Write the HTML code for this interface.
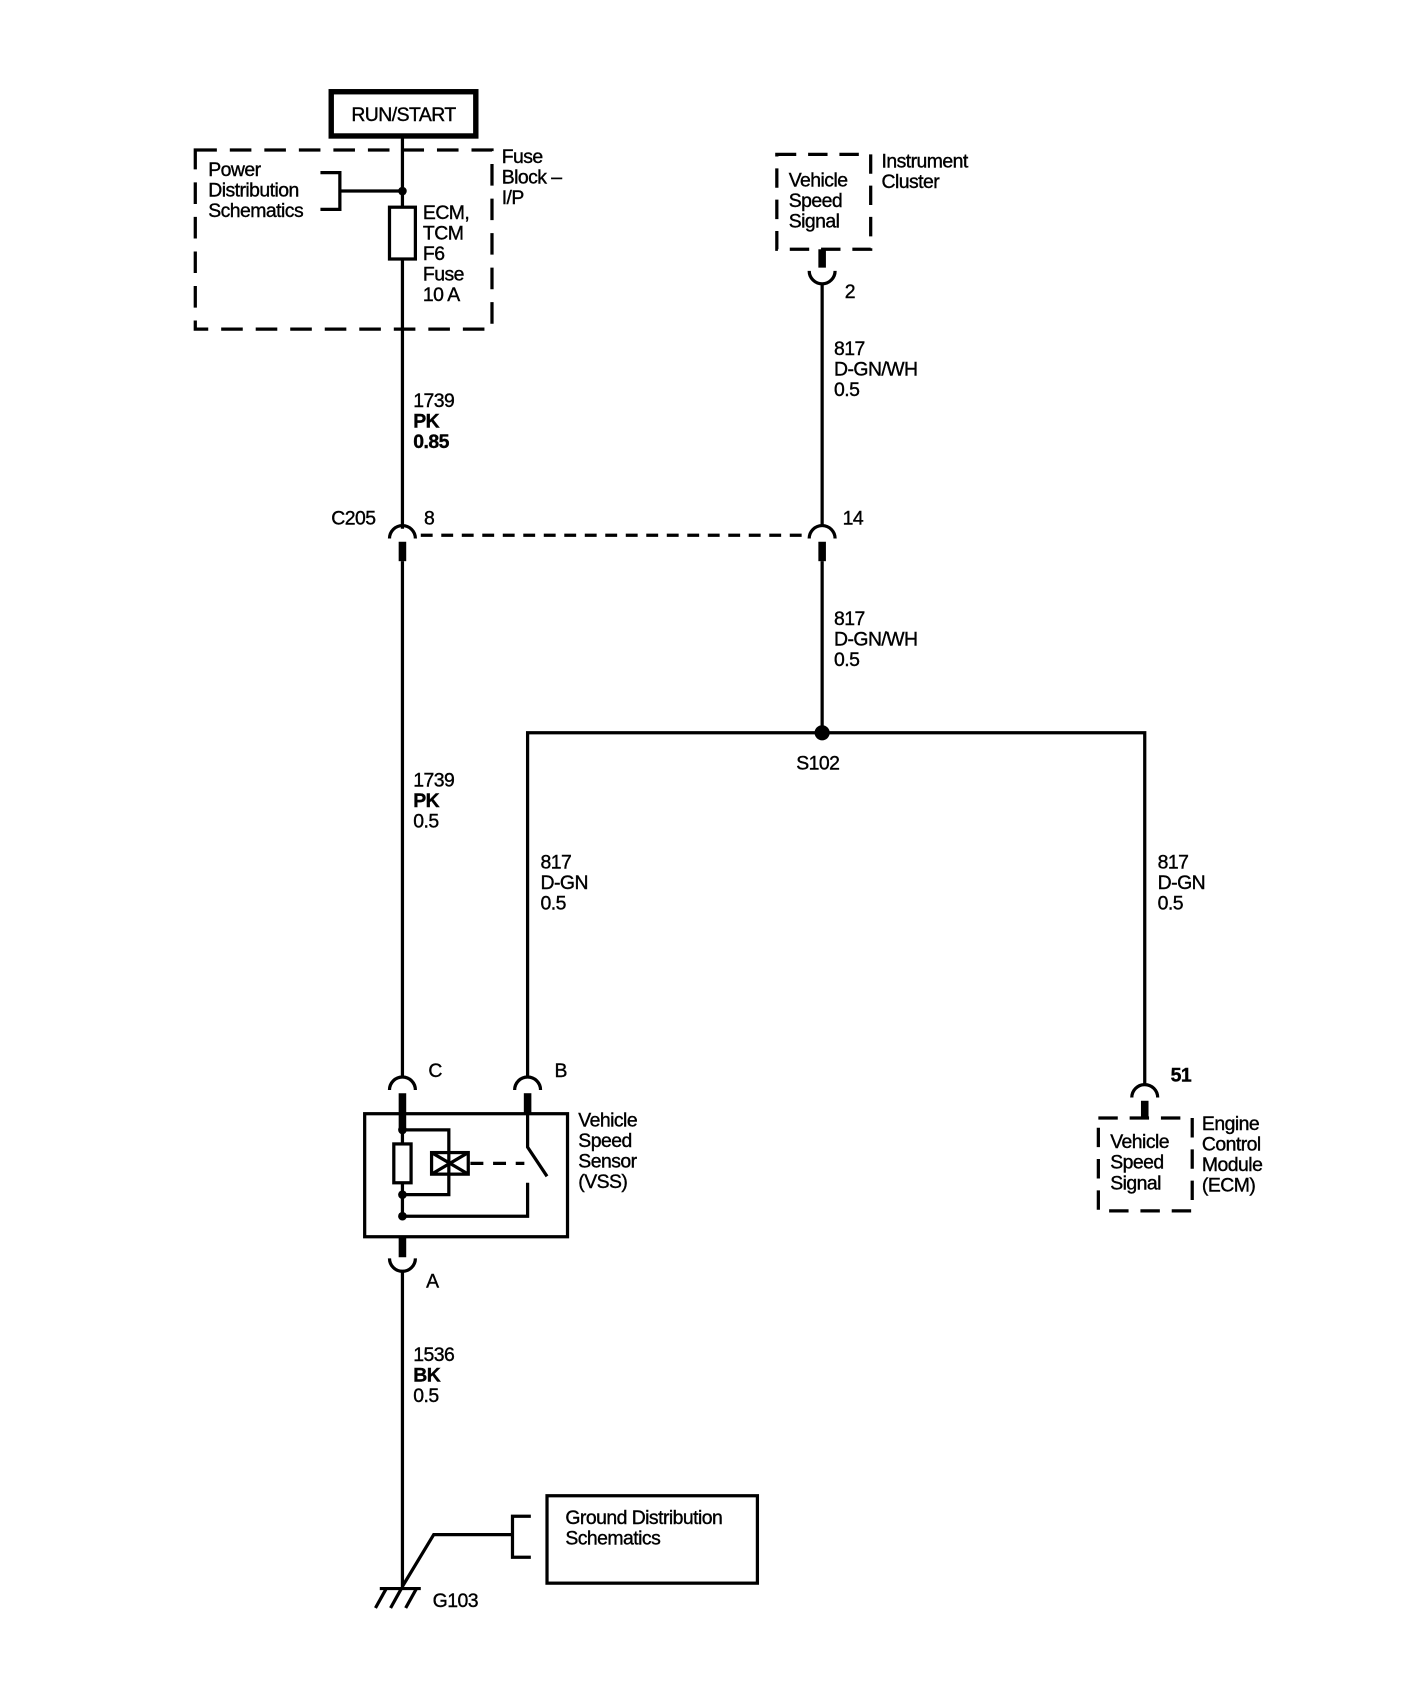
<!DOCTYPE html>
<html><head><meta charset="utf-8"><style>
html,body{margin:0;padding:0;background:#fff;}
svg{display:block;}
text{font-family:"Liberation Sans",Arial,sans-serif;font-size:18px;fill:#000;stroke:#000;stroke-width:0.35px;letter-spacing:-0.5px;}
.b{font-weight:bold;}
</style></head><body>
<svg width="1408" height="1690" viewBox="0 0 1305 1566" preserveAspectRatio="none" xmlns="http://www.w3.org/2000/svg">
<g fill="none" stroke="#000" stroke-width="3">
<rect x="307" y="85" width="134" height="41" stroke-width="5"/>
<rect x="181" y="139" width="275" height="166" stroke-dasharray="20,12"/>
<line x1="373" y1="127" x2="373" y2="490"/>
<polyline points="297,160 315,160 315,194 297,194"/>
<line x1="315" y1="177" x2="373" y2="177"/>
<rect x="361" y="192" width="24" height="48" fill="#fff"/>
<path d="M361,499 A12,12 0 0 1 385,499"/>
<path d="M750,499 A12,12 0 0 1 774,499"/>
<line x1="373" y1="502" x2="373" y2="520" stroke-width="7"/>
<line x1="762" y1="502" x2="762" y2="520" stroke-width="7"/>
<line x1="390" y1="496" x2="748" y2="496" stroke-dasharray="11,8"/>
<rect x="720" y="143" width="87" height="88" stroke-dasharray="18,11"/>
<line x1="762" y1="231" x2="762" y2="248" stroke-width="7"/>
<path d="M750,251 A12,12 0 0 0 774,251"/>
<line x1="762" y1="263" x2="762" y2="487"/>
<line x1="762" y1="520" x2="762" y2="679"/>
<polyline points="489,998 489,679 1061,679 1061,1006"/>
<line x1="373" y1="520" x2="373" y2="998"/>
<path d="M361,1010 A12,12 0 0 1 385,1010"/>
<path d="M477,1010 A12,12 0 0 1 501,1010"/>
<line x1="373" y1="1013" x2="373" y2="1047" stroke-width="7"/>
<line x1="489" y1="1013" x2="489" y2="1033" stroke-width="7"/>
<path d="M1049,1017 A12,12 0 0 1 1073,1017"/>
<line x1="1061" y1="1020" x2="1061" y2="1037" stroke-width="7"/>
<rect x="1018" y="1036" width="87" height="86" stroke-dasharray="18,11"/>
<rect x="338" y="1032" width="188" height="114"/>
<line x1="373" y1="1047" x2="373" y2="1127"/>
<rect x="365" y="1060" width="16" height="36" fill="#fff"/>
<polyline points="373,1047 416,1047 416,1107 373,1107"/>
<rect x="400" y="1068" width="34" height="20"/>
<path d="M400,1068 L434,1088 M400,1088 L434,1068"/>
<line x1="436" y1="1078" x2="486" y2="1078" stroke-dasharray="12,9"/>
<polyline points="489,1033 489,1063 507,1090"/>
<polyline points="489,1096 489,1127 373,1127"/>
<line x1="373" y1="1146" x2="373" y2="1165" stroke-width="7"/>
<path d="M361,1166 A12,12 0 0 0 385,1166"/>
<line x1="373" y1="1178" x2="373" y2="1472"/>
<line x1="352" y1="1472" x2="390" y2="1472"/>
<line x1="358" y1="1472" x2="348" y2="1490"/>
<line x1="372" y1="1472" x2="362" y2="1490"/>
<line x1="386" y1="1472" x2="376" y2="1490"/>
<polyline points="373,1470 402,1422 475,1422"/>
<polyline points="492,1405 475,1405 475,1443 492,1443"/>
<rect x="507" y="1386" width="195" height="81"/>
</g>
<g fill="#000">
<circle cx="373" cy="177" r="4"/>
<circle cx="762" cy="679" r="7"/>
<circle cx="373" cy="1047" r="4"/>
<circle cx="373" cy="1107" r="4"/>
<circle cx="373" cy="1127" r="4"/>
</g>
<text x="374" y="112" text-anchor="middle">RUN/START</text>
<text x="193" y="163">Power</text><text x="193" y="182">Distribution</text><text x="193" y="201">Schematics</text>
<text x="465" y="151">Fuse</text><text x="465" y="170">Block –</text><text x="465" y="189">I/P</text>
<text x="392" y="203">ECM,</text><text x="392" y="222">TCM</text><text x="392" y="241">F6</text><text x="392" y="260">Fuse</text><text x="392" y="279">10 A</text>
<text x="383" y="377">1739</text><text x="383" y="396" class="b">PK</text><text x="383" y="415" class="b">0.85</text>
<text x="307" y="486">C205</text><text x="393" y="486">8</text><text x="781" y="486">14</text>
<text x="731" y="173">Vehicle</text><text x="731" y="192">Speed</text><text x="731" y="211">Signal</text>
<text x="817" y="155">Instrument</text><text x="817" y="174">Cluster</text>
<text x="783" y="276">2</text>
<text x="773" y="329">817</text><text x="773" y="348">D-GN/WH</text><text x="773" y="367">0.5</text>
<text x="773" y="579">817</text><text x="773" y="598">D-GN/WH</text><text x="773" y="617">0.5</text>
<text x="738" y="713">S102</text>
<text x="383" y="729">1739</text><text x="383" y="748" class="b">PK</text><text x="383" y="767">0.5</text>
<text x="501" y="805">817</text><text x="501" y="824">D-GN</text><text x="501" y="843">0.5</text>
<text x="1073" y="805">817</text><text x="1073" y="824">D-GN</text><text x="1073" y="843">0.5</text>
<text x="397" y="998">C</text><text x="514" y="998">B</text><text x="1085" y="1002" class="b">51</text>
<text x="536" y="1044">Vehicle</text><text x="536" y="1063">Speed</text><text x="536" y="1082">Sensor</text><text x="536" y="1101">(VSS)</text>
<text x="1029" y="1064">Vehicle</text><text x="1029" y="1083">Speed</text><text x="1029" y="1102">Signal</text>
<text x="1114" y="1047">Engine</text><text x="1114" y="1066">Control</text><text x="1114" y="1085">Module</text><text x="1114" y="1104">(ECM)</text>
<text x="395" y="1193">A</text>
<text x="383" y="1261">1536</text><text x="383" y="1280" class="b">BK</text><text x="383" y="1299">0.5</text>
<text x="524" y="1412">Ground Distribution</text><text x="524" y="1431">Schematics</text>
<text x="401" y="1489">G103</text>
</svg>
</body></html>
